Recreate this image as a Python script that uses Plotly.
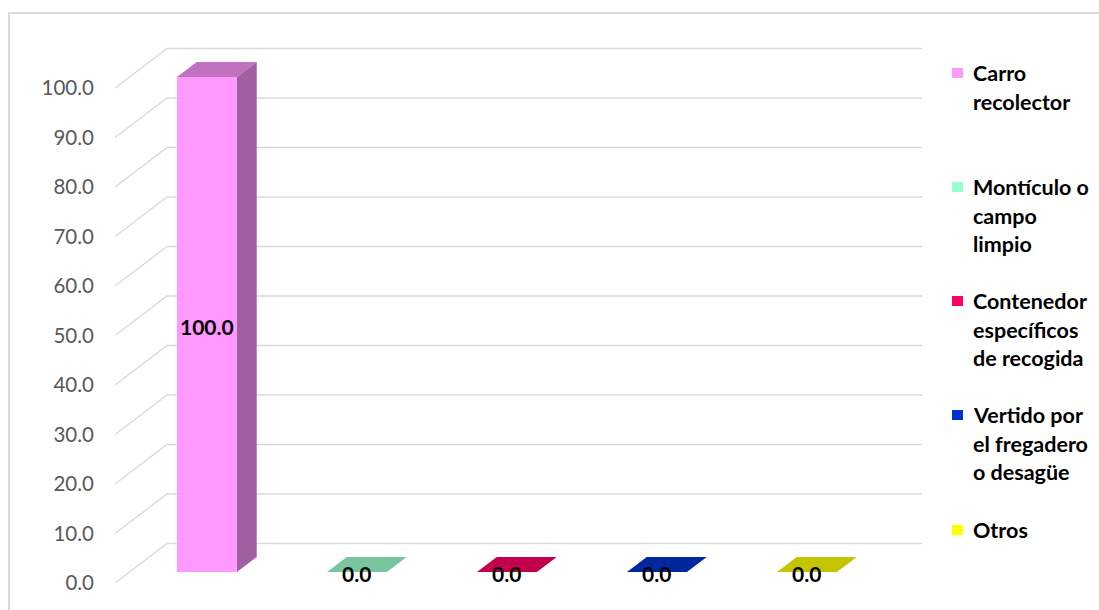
import plotly.graph_objects as go

# ---- data ----
categories = [
    "Carro recolector",
    "Montículo o campo limpio",
    "Contenedor específicos de recogida",
    "Vertido por el fregadero o desagüe",
    "Otros",
]
legend_lines = [
    ["Carro", "recolector"],
    ["Montículo o", "campo", "limpio"],
    ["Contenedor", "específicos", "de recogida"],
    ["Vertido por", "el fregadero", "o desagüe"],
    ["Otros"],
]
values = [100.0, 0.0, 0.0, 0.0, 0.0]
y_ticks = [0, 10, 20, 30, 40, 50, 60, 70, 80, 90, 100]

# ---- styling ----
legend_colors = ["#FF99FF", "#99FFCC", "#FF0066", "#0033CC", "#FFFF00"]
front_colors = ["#FF99FF", "#99FFCC", "#FF0066", "#0033CC", "#FFFF00"]
side_colors = ["#A05FA1", "#66AA88", "#A80045", "#002288", "#AAAA00"]
top_colors = ["#C072C1", "#78C5A0", "#C2004E", "#00289C", "#C4C400"]

W, H = 1099, 610
AX_LEFT = 115            # pixel where the plot area starts
X_RANGE = [-0.516, 6.044]  # category index units (150 px per category)
Y_RANGE = [-5.45, 117.78]  # value units (~4.95 px per unit)

DX = 52 / 150   # depth offset of the back wall, x (index units)
DV = 39.5 / 4.95  # depth offset of the back wall, y (value units)
BAR_D0, BAR_D1 = 0.28, 0.66  # front / back depth of the columns
HALF_W = 0.2                 # half column width (index units)
WALL_RIGHT = 4.517           # right end of the back wall (front-plane index)


def proj(x, v, d):
    """Oblique projection of a point (x, value, depth 0..1) onto the axes."""
    return x + d * DX, v + d * DV


def poly(points):
    xs, ys = zip(*[proj(*p) for p in points])
    return list(xs) + [xs[0]], list(ys) + [ys[0]]


fig = go.Figure()

# gridlines: side wall diagonal + back wall horizontal
for t in y_ticks:
    p0 = proj(X_RANGE[0], t, 0)
    p1 = proj(X_RANGE[0], t, 1)
    p2 = proj(WALL_RIGHT, t, 1)
    fig.add_trace(go.Scatter(
        x=[p0[0], p1[0], p2[0]], y=[p0[1], p1[1], p2[1]],
        mode="lines", line=dict(color="#D9D9D9", width=1.4),
        hoverinfo="skip", showlegend=False))

# 3D columns
for i, (cat, v) in enumerate(zip(categories, values)):
    xl, xr = i - HALF_W, i + HALF_W
    faces = [
        (top_colors[i], [(xl, v, BAR_D0), (xr, v, BAR_D0), (xr, v, BAR_D1), (xl, v, BAR_D1)]),
        (side_colors[i], [(xr, 0, BAR_D0), (xr, 0, BAR_D1), (xr, v, BAR_D1), (xr, v, BAR_D0)]),
        (front_colors[i], [(xl, 0, BAR_D0), (xr, 0, BAR_D0), (xr, v, BAR_D0), (xl, v, BAR_D0)]),
    ]
    for color, pts in faces:
        xs, ys = poly(pts)
        fig.add_trace(go.Scatter(
            x=xs, y=ys, mode="lines", fill="toself", fillcolor=color,
            line=dict(width=0, color=color), name=cat,
            hoverinfo="name", showlegend=False))
    lx, ly = proj(i, v / 2, BAR_D0)
    fig.add_annotation(x=lx, y=ly, text=f"<b>{v:.1f}</b>", showarrow=False,
                       yshift=-2, font=dict(family="Lato", size=21, color="#000000"))


def px_x(p):
    return p / W


def px_y(p):
    return (H - p) / H


shapes = [
    # chart frame
    dict(type="rect", xref="paper", yref="paper",
         x0=px_x(9), y0=px_y(640), x1=px_x(1120), y1=px_y(13),
         line=dict(color="#D9D9D9", width=2), fillcolor="rgba(0,0,0,0)", layer="below"),
]

# legend
entry_tops = [73, 187, 301, 415, 530]
line_gap = 28.7
for k, (lines, color, top) in enumerate(zip(legend_lines, legend_colors, entry_tops)):
    shapes.append(dict(type="rect", xref="paper", yref="paper",
                       x0=px_x(952), x1=px_x(963), y0=px_y(top + 5), y1=px_y(top - 5),
                       fillcolor=color, line=dict(width=0)))
    for j, line in enumerate(lines):
        fig.add_annotation(xref="paper", yref="paper", x=px_x(971), y=px_y(top + j * line_gap),
                           xanchor="left", yanchor="middle", showarrow=False,
                           text=f"<b>{line}</b>",
                           font=dict(family="Lato", size=21.5, color="#000000"))

fig.update_layout(
    width=W, height=H,
    margin=dict(l=0, r=0, t=0, b=0),
    paper_bgcolor="#FFFFFF", plot_bgcolor="#FFFFFF",
    showlegend=False,
    shapes=shapes,
    xaxis=dict(domain=[AX_LEFT / W, 1], range=X_RANGE, visible=False, fixedrange=True),
    yaxis=dict(range=Y_RANGE, tickvals=y_ticks, ticktext=[f"{t:.1f}" for t in y_ticks],
               showgrid=False, zeroline=False, showline=False, ticks="",
               ticklabelstandoff=20,
               tickfont=dict(family="Lato", size=20.5, color="#595959"), fixedrange=True),
)

fig.write_html("out.html")
